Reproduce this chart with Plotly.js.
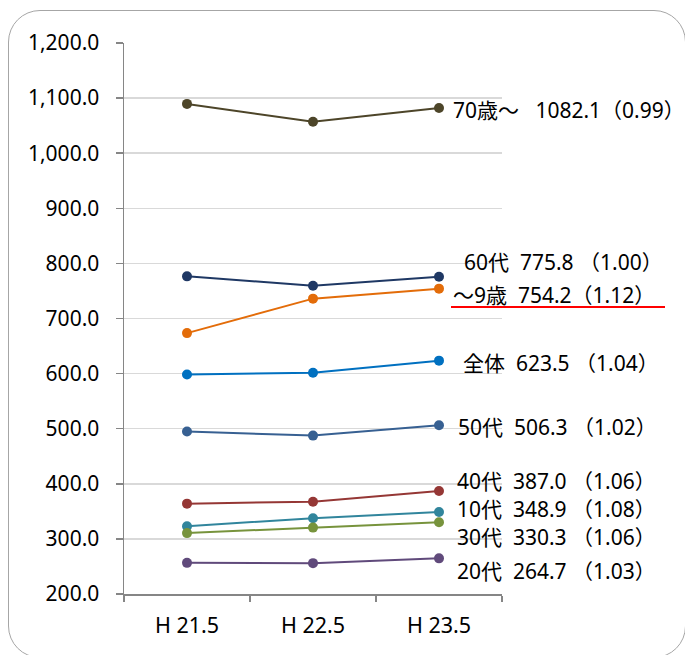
<!DOCTYPE html>
<html>
<head>
<meta charset="utf-8">
<script src="https://cdn.plot.ly/plotly-3.0.1.min.js"></script>
<style>
html,body{margin:0;padding:0;background:#fff;overflow:hidden;}
#wrap{position:relative;width:685px;height:655px;}
#plot{position:absolute;left:0;top:0;width:685px;height:655px;}
#frame{position:absolute;left:8px;top:10px;width:678px;height:648px;border:1.5px solid #a6a6a6;border-radius:32px;pointer-events:none;box-sizing:border-box;}
#uline{position:absolute;left:451px;top:306px;width:214px;height:2px;background:#FF0000;pointer-events:none;}
</style>
</head>
<body>
<div id="wrap"><div id="plot"></div><div id="uline"></div><div id="frame"></div></div>
<script>
// ---- data ----
const categories = ["H 21.5", "H 22.5", "H 23.5"];
const seriesNames = ["70歳～", "60代", "～9歳", "全体", "50代", "40代", "10代", "30代", "20代"];
const v70 = [1089.5, 1057.0, 1082.1];
const v60 = [776.5, 759.5, 775.8];
const v9 = [673.5, 736.0, 754.2];
const vAll = [598.5, 601.5, 623.5];
const v50 = [495.0, 487.5, 506.3];
const v40 = [364.0, 367.5, 387.0];
const v10 = [323.0, 337.5, 348.9];
const v30 = [310.5, 320.5, 330.3];
const v20 = [256.5, 256.0, 264.7];
const ratios = [0.99, 1.00, 1.12, 1.04, 1.02, 1.06, 1.08, 1.06, 1.03];
const yTicks = [200, 300, 400, 500, 600, 700, 800, 900, 1000, 1100, 1200];

// ---- style ----
const seriesValues = [v70, v60, v9, vAll, v50, v40, v10, v30, v20];
const colors = ["#4D4529", "#1F3864", "#E36C09", "#0070C0", "#376092", "#953735", "#31859C", "#77933C", "#604A7B"];
// label positions in pixels (left x, middle y)
const labelPx = [[452, 110], [463, 262], [452, 295], [462, 363], [457, 427], [456, 481], [456, 509], [456, 537], [456, 571]];
const gapAfterName = ["\u00a0\u00a0\u00a0", "\u00a0\u00a0", "\u00a0\u00a0", "\u00a0\u00a0", "\u00a0\u00a0", "\u00a0\u00a0", "\u00a0\u00a0", "\u00a0\u00a0", "\u00a0\u00a0"];
const gapBeforeParen = ["", "\u00a0", "", "\u00a0", "\u00a0", "\u00a0", "\u00a0", "\u00a0", "\u00a0"];

const W = 685, H = 655;
const M = {l: 124, r: 183, t: 43, b: 61};
const pw = W - M.l - M.r, ph = H - M.t - M.b;
const px2x = x => (x - M.l) / pw;
const py2y = y => (H - M.b - y) / ph;

const FONT = "Noto Sans, Noto Sans CJK JP, sans-serif";

const traces = seriesValues.map((vals, i) => ({
  type: "scatter",
  mode: "lines+markers",
  x: categories,
  y: vals,
  name: seriesNames[i],
  line: {color: colors[i], width: 2},
  marker: {color: colors[i], size: 10},
  hoverinfo: "skip"
}));

const annotations = seriesValues.map((vals, i) => ({
  xref: "paper", yref: "paper",
  x: px2x(labelPx[i][0]), y: py2y(labelPx[i][1]),
  xanchor: "left", yanchor: "middle",
  showarrow: false,
  borderpad: 0,
  text: seriesNames[i] + gapAfterName[i] + vals[vals.length - 1].toFixed(1) + gapBeforeParen[i] + "（" + ratios[i].toFixed(2) + "）",
  font: {family: FONT, size: 21, color: "#000"}
}));

const layout = {
  width: W, height: H,
  margin: M,
  paper_bgcolor: "rgba(0,0,0,0)",
  plot_bgcolor: "#fff",
  showlegend: false,
  font: {family: FONT, color: "#000"},
  xaxis: {
    type: "category",
    range: [-0.5, 2.5],
    tickson: "boundaries",
    ticks: "outside", ticklen: 6, tickwidth: 1.5, tickcolor: "#868686",
    showline: true, linecolor: "#868686", linewidth: 1.5,
    showgrid: false, zeroline: false,
    ticklabelstandoff: 12,
    tickfont: {family: FONT, size: 21.5, color: "#000"},
    fixedrange: true
  },
  yaxis: {
    range: [200, 1200],
    tickvals: yTicks,
    tickformat: ",.1f",
    ticks: "outside", ticklen: 7, tickwidth: 1.5, tickcolor: "#868686",
    showline: true, linecolor: "#868686", linewidth: 1.5,
    showgrid: true, gridcolor: "#d9d9d9", gridwidth: 1.5,
    zeroline: false,
    ticklabelstandoff: 12,
    tickfont: {family: FONT, size: 21, color: "#000"},
    fixedrange: true
  },
  annotations: annotations
};

Plotly.newPlot("plot", traces, layout, {staticPlot: true, displayModeBar: false});
</script>
</body>
</html>
